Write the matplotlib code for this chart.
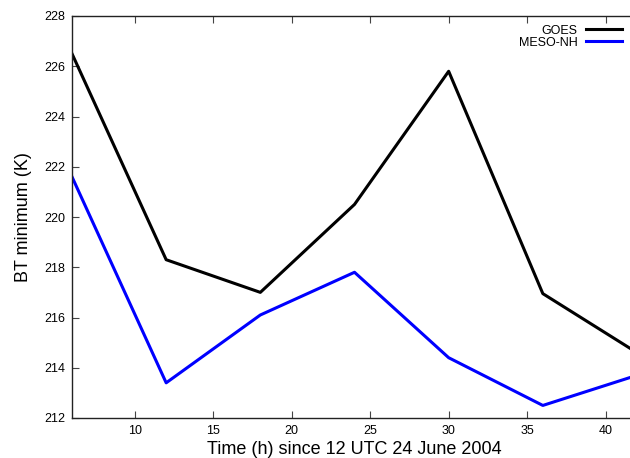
import matplotlib
matplotlib.use("Agg")
import matplotlib.pyplot as plt

plt.rcParams['font.family'] = ['Liberation Sans', 'DejaVu Sans']

# hours since 12 UTC 24 June 2004
hours = [6, 12, 18, 24, 30, 36, 42]
goes = [226.5, 218.3, 217.0, 220.5, 225.8, 216.95, 214.6]
mesonh = [221.6, 213.4, 216.1, 217.8, 214.4, 212.5, 213.7]

fig = plt.figure(figsize=(6.30, 4.58), dpi=100)
# right end of the axes falls just past the figure edge (cropped like the original)
ax = fig.add_axes([72 / 630, 40 / 458, 565 / 630, 402 / 458])

ax.plot(hours, goes, color='black', lw=2.2, label='GOES')
ax.plot(hours, mesonh, color='#0000ff', lw=2.2, label='MESO-NH')

ax.set_xlim(6, 42)
ax.set_ylim(212, 228)
ax.set_xticks(range(10, 45, 5))
ax.set_yticks(range(212, 229, 2))

ax.tick_params(direction='in', length=5, width=0.8, color='#444444',
               labelsize=9, top=True, right=True, pad=5)
for s in ax.spines.values():
    s.set_color('#222222')
    s.set_linewidth(1.0)

ax.set_xlabel('Time (h) since 12 UTC 24 June 2004', fontsize=13, labelpad=3)
ax.set_ylabel('BT minimum (K)', fontsize=13, labelpad=9)

leg = ax.legend(loc='upper right', bbox_to_anchor=((631 - 72) / 565, 1.0),
                frameon=False, markerfirst=False, fontsize=9, handlelength=2.9,
                handletextpad=0.7, labelspacing=0.0, borderaxespad=0.3)

fig.savefig('out.png', dpi=100)
